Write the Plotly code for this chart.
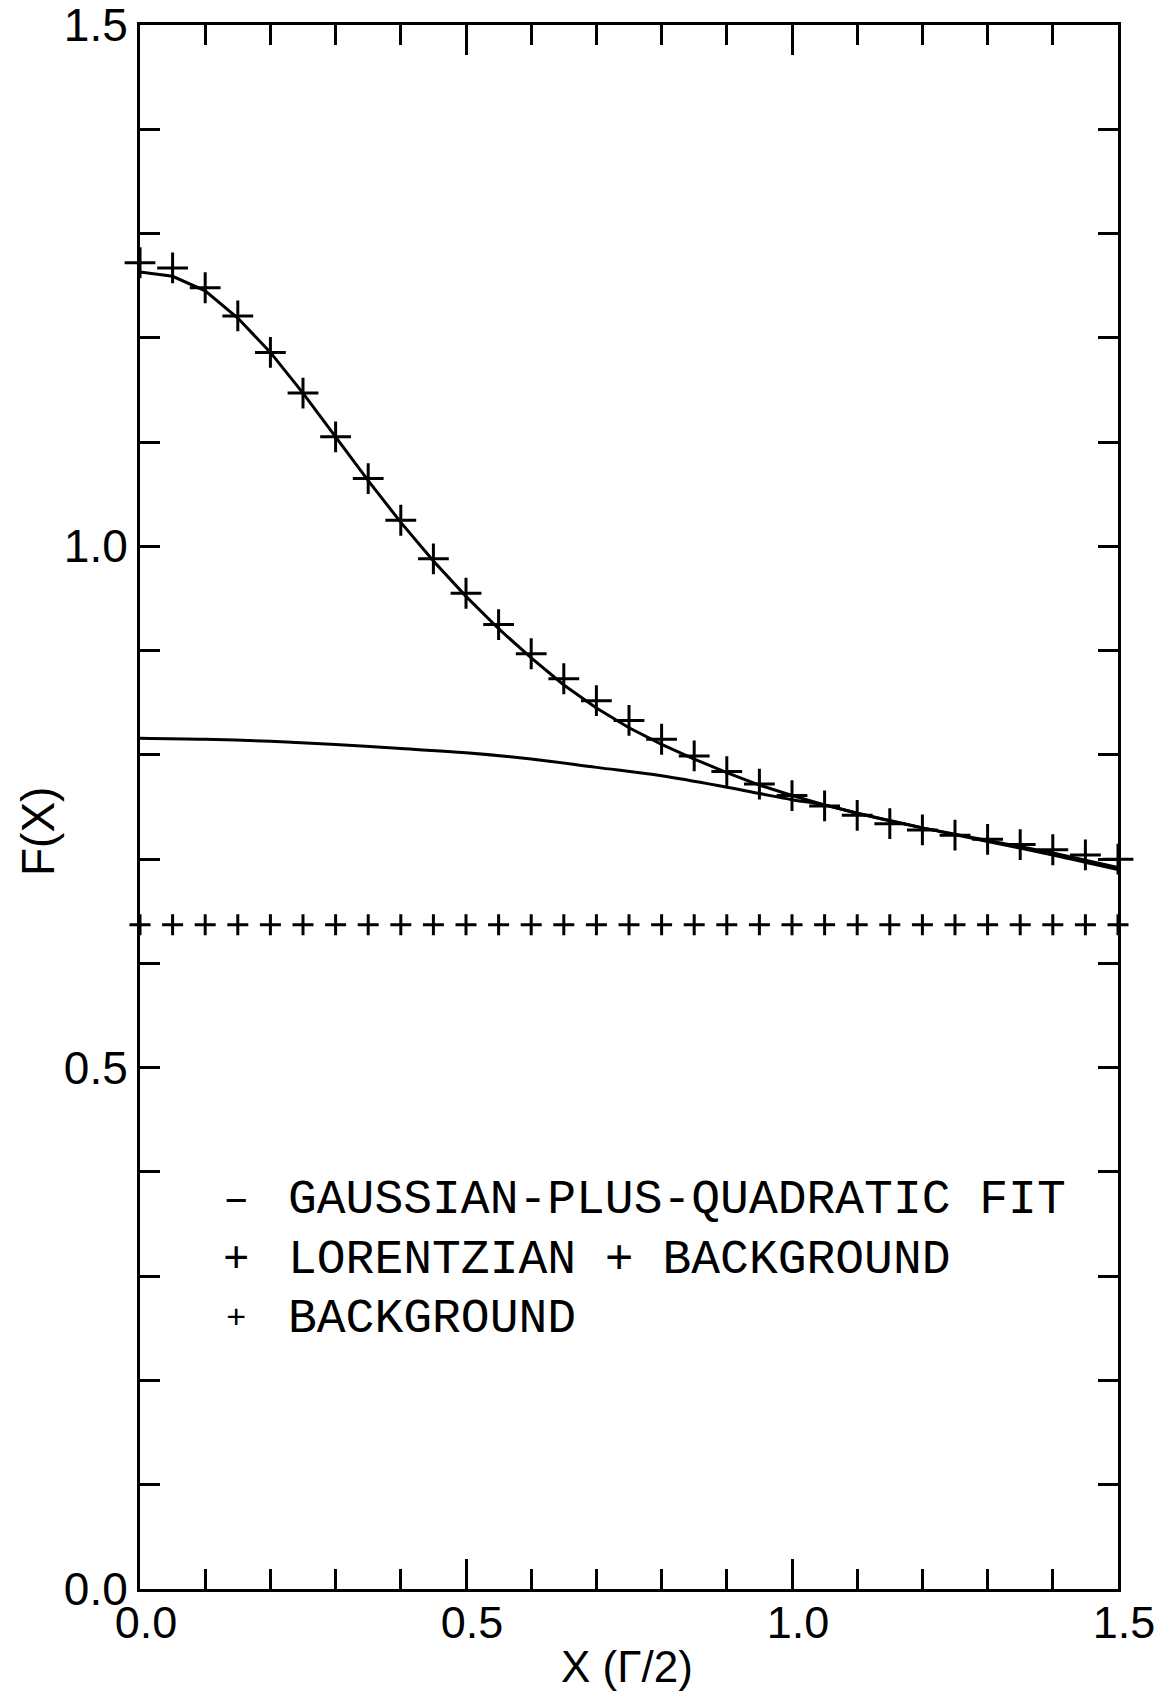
import plotly.graph_objects as go

# ---- data ----
x_fit = [0.0, 0.05, 0.1, 0.15, 0.2, 0.25, 0.3, 0.35, 0.4, 0.45, 0.5, 0.55, 0.6, 0.65, 0.7, 0.75,
         0.8, 0.85, 0.9, 0.95, 1.0, 1.05, 1.1, 1.15, 1.2, 1.25, 1.3, 1.35, 1.4, 1.45, 1.5]
gauss_fit = [1.263, 1.259, 1.245, 1.219, 1.186, 1.147, 1.105, 1.063, 1.023, 0.986, 0.952, 0.921,
             0.893, 0.867, 0.845, 0.826, 0.810, 0.796, 0.783, 0.771, 0.761, 0.752, 0.744, 0.737,
             0.730, 0.724, 0.718, 0.712, 0.706, 0.699, 0.692]

x_quad = [0.0, 0.1, 0.2, 0.3, 0.4, 0.5, 0.6, 0.7, 0.8, 0.9, 0.95, 1.0, 1.05, 1.1, 1.2, 1.3, 1.4, 1.5]
quad_part = [0.816, 0.815, 0.813, 0.810, 0.806, 0.802, 0.796, 0.788, 0.780, 0.769, 0.763, 0.757,
             0.752, 0.744, 0.730, 0.717, 0.704, 0.690]

x_pts = x_fit
lorentz_bg = [1.272, 1.267, 1.248, 1.221, 1.186, 1.147, 1.105, 1.065, 1.025, 0.988, 0.955, 0.925,
              0.897, 0.873, 0.852, 0.833, 0.815, 0.799, 0.784, 0.772, 0.761, 0.751, 0.742, 0.734,
              0.728, 0.723, 0.719, 0.714, 0.709, 0.704, 0.700]
background = [0.637] * 31

legend_labels = ["GAUSSIAN-PLUS-QUADRATIC FIT", "LORENTZIAN + BACKGROUND", "BACKGROUND"]
legend_symbols = ["\u2013", "+", "+"]
legend_y = [0.373, 0.316, 0.259]

TEXT_FONT = "Liberation Mono, DejaVu Sans Mono, monospace"
NUM_FONT = "Liberation Sans, Arial, sans-serif"

fig = go.Figure()
fig.add_trace(go.Scatter(x=x_fit, y=gauss_fit, mode="lines",
                         line=dict(color="black", width=3), showlegend=False))
fig.add_trace(go.Scatter(x=x_quad, y=quad_part, mode="lines", line_shape="spline",
                         line=dict(color="black", width=3), showlegend=False))
fig.add_trace(go.Scatter(x=x_pts, y=lorentz_bg, mode="markers", cliponaxis=False,
                         marker=dict(symbol="cross-thin", size=22, line=dict(color="black", width=3)),
                         showlegend=False))
fig.add_trace(go.Scatter(x=x_pts, y=background, mode="markers", cliponaxis=False,
                         marker=dict(symbol="cross-thin", size=15, line=dict(color="black", width=3)),
                         showlegend=False))

# legend as text
for sym, lab, yy, fs in zip(legend_symbols, legend_labels, legend_y, [44, 44, 34]):
    fig.add_annotation(x=0.147, y=yy, xref="x", yref="y", text=sym, showarrow=False,
                       font=dict(family=TEXT_FONT, size=fs, color="black"),
                       xanchor="center", yanchor="middle")
    fig.add_annotation(x=0.224, y=yy, xref="x", yref="y", text=lab, showarrow=False,
                       font=dict(family=TEXT_FONT, size=48, color="black"),
                       xanchor="left", yanchor="middle")

# axis titles
fig.add_annotation(x=(38 - 140) / 978, y=(1589 - 832) / 1564, xref="paper", yref="paper",
                   text="F(X)", showarrow=False, textangle=-90,
                   font=dict(family=NUM_FONT, size=46, color="black"),
                   xanchor="center", yanchor="middle")
fig.add_annotation(x=(627 - 140) / 978, y=(1589 - 1666) / 1564, xref="paper", yref="paper",
                   text="X (\u0393/2)", showarrow=False, xanchor="center", yanchor="middle",
                   font=dict(family=NUM_FONT, size=44, color="black"))

fig.update_xaxes(range=[0, 1.5], dtick=0.5, tick0=0, tickformat=".1f",
                 ticks="inside", ticklen=30, tickwidth=2.5, tickcolor="black",
                 minor=dict(dtick=0.1, ticks="inside", ticklen=20, tickwidth=2.5, tickcolor="black"),
                 showline=True, linecolor="black", linewidth=3, mirror="allticks",
                 showgrid=False, zeroline=False, ticklabeloverflow="allow",
                 ticklabelstandoff=-8, ticklabelshift=6, automargin=False,
                 tickfont=dict(family=NUM_FONT, size=45, color="black"))
fig.update_yaxes(range=[0, 1.5], dtick=0.5, tick0=0, tickformat=".1f",
                 ticks="inside", ticklen=20, tickwidth=2.5, tickcolor="black",
                 minor=dict(dtick=0.1, ticks="inside", ticklen=20, tickwidth=2.5, tickcolor="black"),
                 showline=True, linecolor="black", linewidth=3, mirror="allticks",
                 showgrid=False, zeroline=False, ticklabeloverflow="allow", automargin=False,
                 tickfont=dict(family=NUM_FONT, size=46, color="black"))

fig.update_layout(width=1161, height=1695, plot_bgcolor="white", paper_bgcolor="white",
                  margin=dict(l=140, r=43, t=25, b=106), showlegend=False)

fig.write_html("out.html")
